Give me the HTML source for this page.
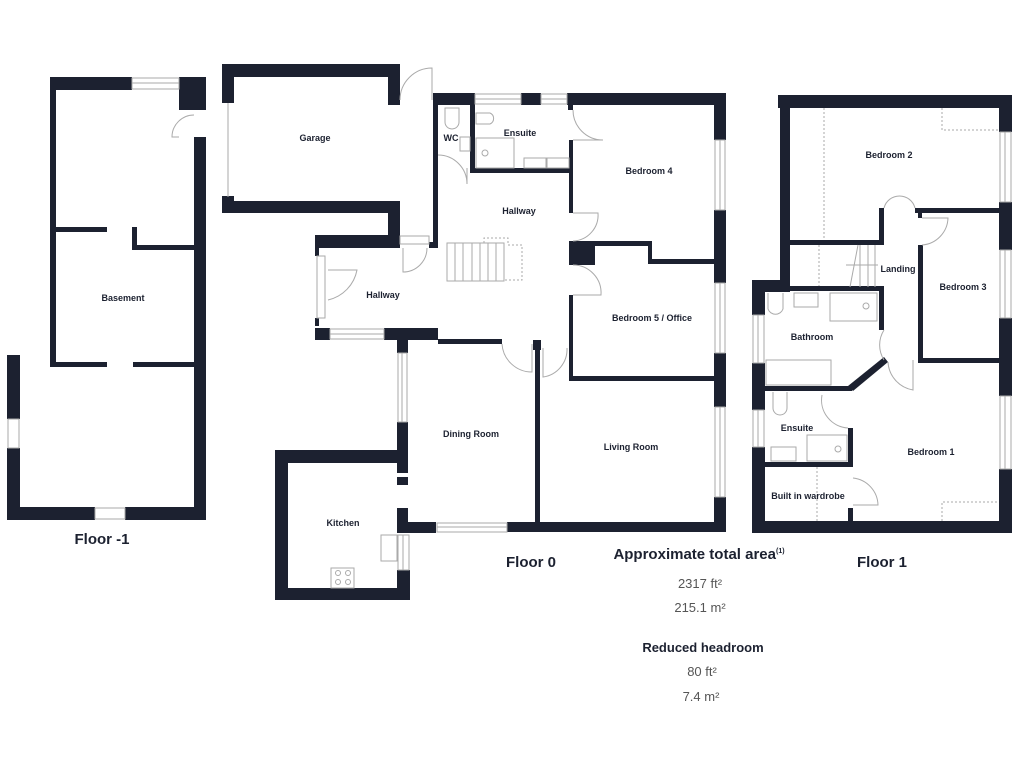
<!DOCTYPE html>
<html><head><meta charset="utf-8"><style>
html,body{margin:0;padding:0;background:#fff;}
svg{display:block}
text{font-family:"Liberation Sans",sans-serif;fill:#1c2130;}
.l{font-size:9px;font-weight:bold;text-anchor:middle}
</style></head><body>
<svg width="1024" height="768" viewBox="0 0 1024 768" xmlns="http://www.w3.org/2000/svg">
<g fill="#1c2130">
<!-- Floor -1 -->
<rect x="50" y="77" width="82" height="13"/>
<rect x="179" y="77" width="27" height="33"/>
<rect x="194" y="137" width="12" height="383"/>
<rect x="50" y="77" width="6" height="290"/>
<rect x="56" y="227" width="51" height="5"/>
<rect x="132" y="227" width="5" height="23"/>
<rect x="132" y="245" width="62" height="5"/>
<rect x="50" y="362" width="57" height="5"/>
<rect x="133" y="362" width="61" height="5"/>
<rect x="7" y="355" width="13" height="64"/>
<rect x="7" y="448" width="13" height="72"/>
<rect x="7" y="507" width="88" height="13"/>
<rect x="125" y="507" width="81" height="13"/>
<!-- Garage -->
<rect x="222" y="64" width="178" height="13"/>
<rect x="222" y="64" width="12" height="39"/>
<rect x="388" y="64" width="12" height="41"/>
<rect x="222" y="196" width="12" height="17"/>
<rect x="222" y="201" width="178" height="12"/>
<rect x="388" y="201" width="12" height="47"/>
<rect x="315" y="235" width="85" height="13"/>
<!-- WC / ensuite / hallway -->
<rect x="433" y="93" width="5" height="155"/>
<rect x="429" y="242" width="9" height="6"/>
<rect x="433" y="93" width="42" height="12"/>
<rect x="521" y="93" width="20" height="12"/>
<rect x="567" y="93" width="159" height="12"/>
<rect x="470" y="93" width="5" height="80"/>
<rect x="470" y="168" width="103" height="5"/>
<rect x="568" y="100" width="5" height="10"/>
<rect x="569" y="140" width="4" height="73"/>
<rect x="569" y="241" width="26" height="24"/>
<rect x="569" y="241" width="83" height="5"/>
<rect x="648" y="241" width="4" height="22"/>
<rect x="648" y="259" width="78" height="5"/>
<rect x="569" y="295" width="4" height="86"/>
<rect x="569" y="376" width="157" height="5"/>
<rect x="714" y="93" width="12" height="47"/>
<rect x="714" y="210" width="12" height="73"/>
<rect x="714" y="353" width="12" height="54"/>
<rect x="714" y="497" width="12" height="35"/>
<rect x="507" y="522" width="219" height="10"/>
<rect x="535" y="340" width="5" height="192"/>
<rect x="533" y="340" width="8" height="10"/>
<!-- lower hallway -->
<rect x="315" y="235" width="13" height="13"/>
<rect x="315" y="248" width="4" height="8"/>
<rect x="315" y="318" width="4" height="8"/>
<rect x="315" y="328" width="15" height="12"/>
<rect x="384" y="328" width="54" height="12"/>
<rect x="438" y="339" width="64" height="5"/>
<!-- dining -->
<rect x="397" y="340" width="11" height="13"/>
<rect x="397" y="422" width="11" height="51"/>
<rect x="397" y="477" width="11" height="8"/>
<rect x="397" y="508" width="11" height="25"/>
<rect x="397" y="522" width="39" height="11"/>
<!-- kitchen -->
<rect x="275" y="450" width="122" height="13"/>
<rect x="275" y="450" width="13" height="150"/>
<rect x="275" y="588" width="135" height="12"/>
<rect x="397" y="570" width="13" height="30"/>
<!-- Floor 1 -->
<rect x="778" y="95" width="234" height="13"/>
<rect x="780" y="95" width="10" height="197"/>
<rect x="752" y="280" width="38" height="12"/>
<rect x="752" y="280" width="13" height="35"/>
<rect x="752" y="363" width="13" height="47"/>
<rect x="752" y="447" width="13" height="86"/>
<rect x="752" y="521" width="260" height="12"/>
<rect x="999" y="95" width="13" height="37"/>
<rect x="999" y="202" width="13" height="48"/>
<rect x="999" y="318" width="13" height="78"/>
<rect x="999" y="469" width="13" height="64"/>
<rect x="790" y="240" width="94" height="5"/>
<rect x="879" y="208" width="5" height="37"/>
<rect x="915" y="208" width="85" height="5"/>
<rect x="918" y="245" width="5" height="117"/>
<rect x="918" y="210" width="4" height="8"/>
<rect x="918" y="358" width="82" height="5"/>
<rect x="765" y="286" width="119" height="5"/>
<rect x="879" y="286" width="5" height="44"/>
<rect x="765" y="386" width="87" height="5"/>
<polygon points="848,386 884,357 888,362 853,391"/>
<rect x="765" y="462" width="88" height="5"/>
<rect x="848" y="428" width="5" height="39"/>
<rect x="848" y="508" width="5" height="14"/>
</g>
<g fill="none" stroke="#aaa" stroke-width="1">
<!-- windows -->
<rect x="132" y="78" width="47" height="11"/><line x1="132" y1="83" x2="179" y2="83"/>
<rect x="8" y="419" width="11" height="29"/>
<rect x="95" y="508" width="30" height="11"/>
<line x1="228" y1="103" x2="228" y2="197"/>
<rect x="475" y="94" width="46" height="10"/><line x1="475" y1="99" x2="521" y2="99"/>
<rect x="541" y="94" width="26" height="10"/><line x1="541" y1="99" x2="567" y2="99"/>
<rect x="715" y="140" width="10" height="70"/><line x1="720" y1="140" x2="720" y2="210"/>
<rect x="715" y="283" width="10" height="70"/><line x1="720" y1="283" x2="720" y2="353"/>
<rect x="715" y="407" width="10" height="90"/><line x1="720" y1="407" x2="720" y2="497"/>
<rect x="437" y="523" width="70" height="9"/><line x1="437" y1="527" x2="507" y2="527"/>
<rect x="330" y="329" width="54" height="10"/><line x1="330" y1="334" x2="384" y2="334"/>
<rect x="317" y="256" width="8" height="62"/>
<rect x="398" y="353" width="9" height="69"/><line x1="402" y1="353" x2="402" y2="422"/>
<rect x="398" y="535" width="11" height="35"/><line x1="403" y1="535" x2="403" y2="570"/>
<rect x="1000" y="132" width="11" height="70"/><line x1="1005" y1="132" x2="1005" y2="202"/>
<rect x="1000" y="250" width="11" height="68"/><line x1="1005" y1="250" x2="1005" y2="318"/>
<rect x="1000" y="396" width="11" height="73"/><line x1="1005" y1="396" x2="1005" y2="469"/>
<rect x="753" y="315" width="11" height="48"/><line x1="758" y1="315" x2="758" y2="363"/>
<rect x="753" y="410" width="11" height="37"/><line x1="758" y1="410" x2="758" y2="447"/>
<!-- doors -->
<path d="M179 137 L172 137 A 22 22 0 0 1 194 115"/>
<path d="M400 100 A 32 32 0 0 1 432 68 L432 100"/>
<path d="M403 248 L403 272 A 24 24 0 0 0 427 248"/>
<rect x="400" y="236" width="29" height="8"/>
<path d="M328 270 L357 270 A 38 38 0 0 1 328 300"/>
<path d="M573 110 A 30 30 0 0 0 603 140 L 573 140"/>
<path d="M573 213 L598 213 A 26 26 0 0 1 573 241"/>
<path d="M573 265 A 28 28 0 0 1 601 295 L573 295"/>
<path d="M502 344 A 30 30 0 0 0 532 372 L532 344"/>
<path d="M543 348 L543 377 A 28 28 0 0 0 567 348"/>
<path d="M438 155 A 29 29 0 0 1 467 184 L467 168"/>
<path d="M884 208 A 16 16 0 0 1 915 208"/>
<path d="M922 218 L948 218 A 28 28 0 0 1 922 245"/>
<path d="M884 330 A 28 28 0 0 0 884 360"/>
<path d="M913 360 L913 390 A 30 30 0 0 1 888 362"/>
<path d="M822 395 A 28 28 0 0 0 848 428"/>
<path d="M853 478 A 28 28 0 0 1 878 505 L853 505"/>
<!-- fixtures -->
<rect x="447" y="243" width="57" height="38"/>
<line x1="455" y1="243" x2="455" y2="281"/><line x1="463" y1="243" x2="463" y2="281"/><line x1="472" y1="243" x2="472" y2="281"/><line x1="480" y1="243" x2="480" y2="281"/><line x1="488" y1="243" x2="488" y2="281"/><line x1="496" y1="243" x2="496" y2="281"/>
<path d="M484 243 L484 238 L508 238 L508 245 L522 245 L522 280 L504 280" stroke-dasharray="2,2"/>
<rect x="476" y="138" width="38" height="30"/><circle cx="485" cy="153" r="3"/>
<rect x="524" y="158" width="22" height="10"/><rect x="547" y="158" width="22" height="10"/>
<path d="M476 113 L476 124 L490 124 A 6 6 0 0 0 490 113 Z"/>
<path d="M445 108 L445 122 A 7 7 0 0 0 459 122 L459 108 Z"/>
<rect x="460" y="137" width="10" height="14"/>
<rect x="381" y="535" width="16" height="26"/>
<rect x="331" y="568" width="23" height="20"/>
<circle cx="338" cy="573" r="2.5"/><circle cx="348" cy="573" r="2.5"/><circle cx="338" cy="582" r="2.5"/><circle cx="348" cy="582" r="2.5"/>
<line x1="824" y1="108" x2="824" y2="240" stroke-dasharray="2,2"/>
<path d="M942 108 L942 130 L999 130" stroke-dasharray="2,2"/>
<line x1="819" y1="245" x2="819" y2="286" stroke-dasharray="2,2"/>
<path d="M850 287 L858 245 M860 245 L860 287 M868 245 L868 287 M875 245 L875 287 M846 265 L878 265"/>
<rect x="767" y="293" width="0" height="0"/>
<path d="M768 293 L768 309 A 8 8 0 0 0 783 309 L783 293"/>
<rect x="794" y="293" width="24" height="14"/>
<rect x="830" y="293" width="47" height="28"/><circle cx="866" cy="306" r="3"/>
<rect x="766" y="360" width="65" height="25"/>
<path d="M773 392 L773 408 A 7 7 0 0 0 787 408 L787 392"/>
<rect x="807" y="435" width="40" height="26"/><circle cx="838" cy="449" r="3"/>
<rect x="771" y="447" width="25" height="14"/>
<line x1="817" y1="467" x2="817" y2="521" stroke-dasharray="2,2"/>
<path d="M942 521 L942 502 L999 502" stroke-dasharray="2,2"/>
</g>
<text class="l" x="315" y="141">Garage</text>
<text class="l" x="451" y="141">WC</text>
<text class="l" x="520" y="136">Ensuite</text>
<text class="l" x="649" y="174">Bedroom 4</text>
<text class="l" x="519" y="214">Hallway</text>
<text class="l" x="383" y="298">Hallway</text>
<text class="l" x="652" y="321">Bedroom 5 / Office</text>
<text class="l" x="471" y="437">Dining Room</text>
<text class="l" x="631" y="450">Living Room</text>
<text class="l" x="343" y="526">Kitchen</text>
<text class="l" x="123" y="301">Basement</text>
<text class="l" x="889" y="158">Bedroom 2</text>
<text class="l" x="898" y="272">Landing</text>
<text class="l" x="963" y="290">Bedroom 3</text>
<text class="l" x="812" y="340">Bathroom</text>
<text class="l" x="797" y="431">Ensuite</text>
<text class="l" x="931" y="455">Bedroom 1</text>
<text class="l" x="808" y="499">Built in wardrobe</text>
<text x="102" y="544" style="font-size:15px;font-weight:bold;text-anchor:middle">Floor -1</text>
<text x="531" y="567" style="font-size:15px;font-weight:bold;text-anchor:middle">Floor 0</text>
<text x="882" y="567" style="font-size:15px;font-weight:bold;text-anchor:middle">Floor 1</text>
<text x="699" y="559" style="font-size:15px;font-weight:bold;text-anchor:middle">Approximate total area<tspan dy="-6" style="font-size:7px">(1)</tspan></text>
<text x="700" y="588" style="font-size:13px;text-anchor:middle;fill:#555">2317 ft²</text>
<text x="700" y="612" style="font-size:13px;text-anchor:middle;fill:#555">215.1 m²</text>
<text x="703" y="652" style="font-size:13px;font-weight:bold;text-anchor:middle">Reduced headroom</text>
<text x="702" y="676" style="font-size:13px;text-anchor:middle;fill:#555">80 ft²</text>
<text x="701" y="701" style="font-size:13px;text-anchor:middle;fill:#555">7.4 m²</text>
</svg>
</body></html>
